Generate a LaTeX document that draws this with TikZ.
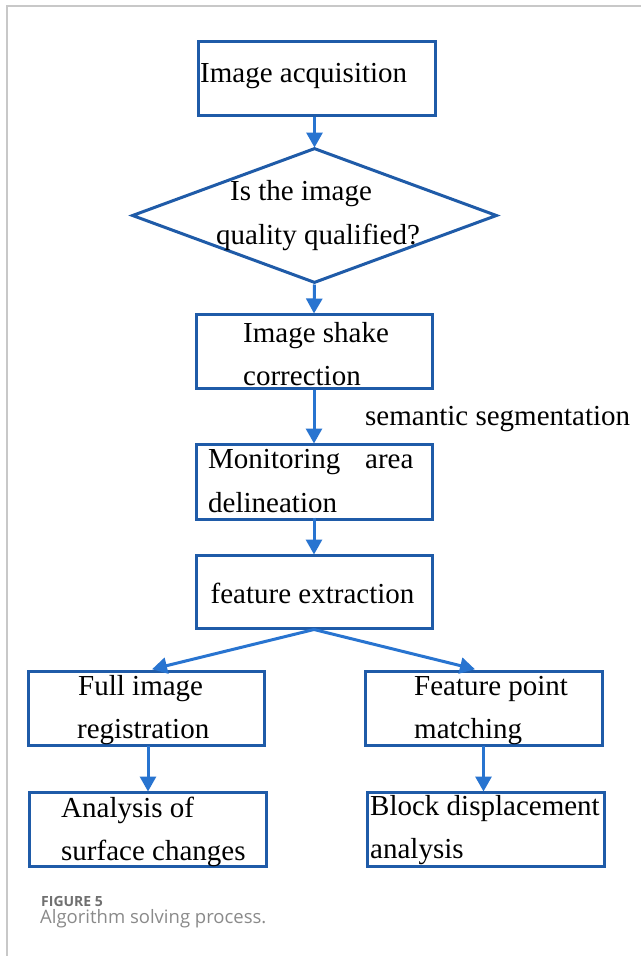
\documentclass[tikz,border=0pt]{standalone}
\usepackage{fontspec}
\setmainfont{Liberation Serif}
\newfontfamily\capfont{Open Sans}
\usetikzlibrary{shapes.geometric,arrows.meta}

\definecolor{boxblue}{HTML}{1F5BA8}
\definecolor{arrowblue}{HTML}{2874D0}
\definecolor{framegray}{HTML}{C8C8C8}
\definecolor{capgray}{HTML}{707070}
\definecolor{captext}{HTML}{8A8A8A}

\tikzset{
  stepbox/.style={draw=boxblue, line width=3pt, rectangle, inner sep=0pt,
    minimum width=#1, minimum height=74pt},
  stepbox/.default=237pt,
  decision/.style={draw=boxblue, line width=3pt, diamond, inner sep=0pt,
    minimum width=365pt, minimum height=135pt},
  txt/.style={anchor=base west, inner sep=0pt,
    font=\fontsize{29}{34}\selectfont},
  arr/.style={draw=arrowblue, line width=3pt,
    -{Triangle[length=15pt,width=16pt]}, shorten >=-1pt},
}

\begin{document}
\begin{tikzpicture}[x=1pt,y=-1pt]
  % canvas and page frame
  \fill[white] (0,0) rectangle (641,956);
  \useasboundingbox (0,0) rectangle (641,956);
  \draw[framegray, line width=1.5pt] (7,956) -- (7,6) -- (641,6);

  % boxes
  \node[stepbox] (acq)   at (316.5,78) {};
  \node[decision] (dia)  at (314.5,215.5) {};
  \node[stepbox=236pt] (shake) at (314,351) {};
  \node[stepbox=236pt, minimum height=75pt] (area) at (314,481.5) {};
  \node[stepbox=236pt, minimum height=73pt] (feat) at (314,591.5) {};
  \node[stepbox=236pt] (full)  at (146,708) {};
  \node[stepbox] (match) at (483.5,708) {};
  \node[stepbox] (surf)  at (148,829) {};
  \node[stepbox] (block) at (485.5,829) {};

  % texts
  \node[txt] (t1)  at (200,82)  {Image acquisition};
  \node[txt] (t2a) at (230,200) {Is the image};
  \node[txt] (t2b) at (216,244) {quality qualified?};
  \node[txt] (t3a) at (243,342) {Image shake};
  \node[txt] (t3b) at (243,385) {correction};
  \node[txt] (seg) at (365,425) {semantic segmentation};
  \node[txt] (t4a) at (208,468) {Monitoring};
  \node[txt] (t4c) at (365,468) {area};
  \node[txt] (t4b) at (208,512) {delineation};
  \node[txt] (t5)  at (210.5,603) {feature extraction};
  \node[txt] (t6a) at (78,695)  {Full image};
  \node[txt] (t6b) at (77,738)  {registration};
  \node[txt] (t7a) at (414,695) {Feature point};
  \node[txt] (t7b) at (414,738) {matching};
  \node[txt] (t8a) at (61,817)  {Analysis of};
  \node[txt] (t8b) at (61,860)  {surface changes};
  \node[txt] (t9a) at (370,815) {Block displacement};
  \node[txt] (t9b) at (370,858) {analysis};

  % connectors
  \coordinate (tipL) at (153,669);
  \coordinate (tipR) at (474,669);
  \draw[arr] (dia.north |- acq.south) -- (dia.north);
  \draw[arr] (dia.south) -- (shake.north);
  \draw[arr] (shake.south) -- (area.north);
  \draw[arr] ([yshift=3pt]area.south) -- (feat.north);
  \draw[arr] (feat.south) -- (tipL);
  \draw[arr] (feat.south) -- (tipR);
  \draw[arr] ([yshift=1pt]surf.north |- full.south) -- (surf.north);
  \draw[arr] ([yshift=1pt]match.south) -- (match.south |- block.north);

  % caption
  \node[anchor=base west, inner sep=0pt, text=capgray,
    font=\capfont\fontsize{14}{16}\selectfont\bfseries] (fig) at (41,906) {FIGURE 5};
  \node[anchor=base west, inner sep=0pt, text=captext,
    font=\capfont\fontsize{18.5}{22}\selectfont] (cap) at (40,923) {Algorithm solving process.};
\end{tikzpicture}
\end{document}
